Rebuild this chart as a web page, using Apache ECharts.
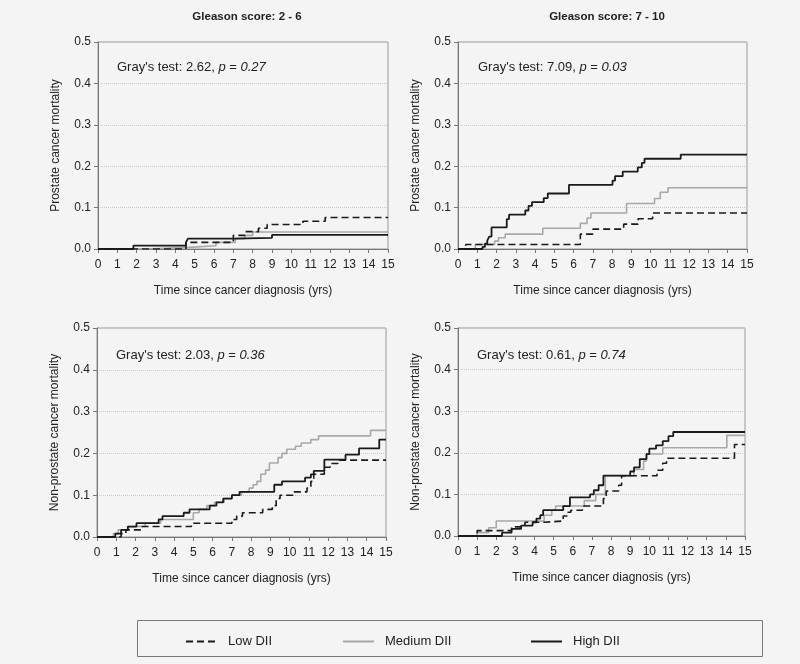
<!DOCTYPE html>
<html><head><meta charset="utf-8">
<script src="https://cdn.jsdelivr.net/npm/echarts@6/dist/echarts.min.js"></script>
<style>html,body{margin:0;padding:0;background:#f4f4f4;}#c{width:800px;height:664px;}</style>
</head><body><div id="c"></div>
<script>
// ---- data (time in years, cumulative mortality) ----
const seriesNames = ['Low DII', 'Medium DII', 'High DII'];
const panelTitles = ['Gleason score: 2 - 6', 'Gleason score: 7 - 10'];
const yNames = ['Prostate cancer mortality', 'Non-prostate cancer mortality'];
const xName = 'Time since cancer diagnosis (yrs)';
const grayStats = [['2.62', '0.27'], ['7.09', '0.03'], ['2.03', '0.36'], ['0.61', '0.74']];
const yTicks = [0, 0.1, 0.2, 0.3, 0.4, 0.5];
const xTicks = [0,1,2,3,4,5,6,7,8,9,10,11,12,13,14,15];

// Panel 1: Gleason 2-6, prostate cancer mortality
const p1Low = [[0,0],[4.55,0.016],[7.0,0.033],[7.6,0.042],[8.3,0.05],[8.75,0.059],[10.6,0.067],[11.75,0.076],[15,0.076]];
const p1Med = [[0,0],[2.4,0.004],[4.7,0.008],[6.1,0.016],[7.1,0.025],[7.6,0.033],[8.0,0.041],[15,0.041]];
const p1High = [[0,0],[1.83,0.008],[4.55,0.016],[4.65,0.025],[7.0,0.027],[9.0,0.034],[15,0.034]];
// Panel 2: Gleason 7-10, prostate cancer mortality
const p2Low = [[0,0],[0.4,0.011],[6.35,0.036],[7.0,0.048],[8.6,0.06],[9.35,0.073],[10.1,0.087],[15,0.087]];
const p2Med = [[0,0],[0.9,0.011],[1.9,0.019],[2.1,0.027],[2.45,0.036],[4.4,0.05],[6.35,0.062],[6.7,0.075],[6.9,0.087],[8.75,0.11],[10.2,0.122],[10.5,0.137],[10.9,0.148],[15,0.148]];
const p2High = [[0,0],[1.27,0.005],[1.4,0.013],[1.52,0.02],[1.62,0.03],[1.74,0.052],[2.53,0.072],[2.65,0.083],[3.49,0.093],[3.66,0.104],[3.84,0.113],[4.45,0.123],[4.66,0.134],[5.76,0.155],[8.02,0.165],[8.15,0.176],[8.55,0.187],[9.33,0.197],[9.54,0.208],[9.68,0.218],[11.56,0.228],[15,0.228]];
// Panel 3: Gleason 2-6, non-prostate cancer mortality
const p3Low = [[0,0],[1.25,0.008],[1.5,0.017],[2.3,0.025],[4.9,0.033],[7.0,0.042],[7.25,0.05],[7.55,0.058],[8.6,0.066],[9.1,0.075],[9.3,0.092],[9.5,0.1],[10.2,0.108],[10.9,0.117],[11.1,0.133],[11.25,0.15],[11.8,0.167],[12.1,0.176],[12.5,0.184],[15,0.184]];
const p3Med = [[0,0],[0.85,0.008],[1.1,0.017],[1.6,0.025],[2.5,0.033],[3.3,0.042],[5.0,0.058],[5.3,0.066],[5.7,0.075],[6.1,0.083],[6.6,0.092],[7.0,0.1],[7.5,0.108],[7.9,0.117],[8.1,0.125],[8.3,0.133],[8.5,0.15],[8.75,0.16],[8.95,0.177],[9.4,0.19],[9.6,0.2],[9.85,0.21],[10.3,0.217],[10.6,0.225],[11.1,0.233],[11.5,0.242],[14.2,0.255],[15,0.255]];
const p3High = [[0,0],[0.95,0.008],[1.25,0.017],[1.6,0.025],[2.05,0.033],[3.2,0.042],[3.4,0.05],[4.5,0.058],[4.8,0.066],[5.85,0.075],[6.2,0.083],[6.55,0.092],[7.0,0.1],[7.4,0.108],[9.2,0.125],[9.6,0.133],[10.8,0.142],[11.1,0.15],[11.25,0.158],[11.8,0.185],[12.9,0.197],[13.6,0.212],[14.65,0.233],[15,0.233]];
// Panel 4: Gleason 7-10, non-prostate cancer mortality
const p4Low = [[0,0],[1.0,0.013],[2.8,0.022],[3.5,0.033],[4.5,0.036],[5.5,0.048],[5.7,0.057],[5.9,0.062],[6.5,0.072],[7.6,0.09],[7.75,0.108],[8.4,0.122],[8.55,0.145],[10.4,0.158],[10.7,0.175],[10.9,0.187],[14.45,0.22],[15,0.22]];
const p4Med = [[0,0],[1.0,0.008],[1.6,0.02],[2.0,0.036],[4.5,0.05],[4.9,0.062],[5.1,0.072],[6.6,0.085],[7.2,0.1],[7.7,0.145],[9.2,0.16],[9.7,0.18],[9.85,0.197],[10.7,0.212],[14.05,0.242],[15,0.242]];
const p4High = [[0,0],[2.3,0.008],[2.8,0.017],[3.3,0.025],[3.9,0.033],[4.1,0.042],[4.3,0.05],[4.45,0.062],[5.5,0.072],[5.85,0.093],[6.9,0.1],[7.1,0.11],[7.35,0.122],[7.6,0.145],[9.0,0.155],[9.2,0.165],[9.5,0.185],[9.85,0.197],[10.0,0.21],[10.35,0.218],[10.7,0.228],[11.0,0.24],[11.25,0.25],[15,0.25]];

const panels = [
  {low: p1Low, med: p1Med, high: p1High},
  {low: p2Low, med: p2Med, high: p2High},
  {low: p3Low, med: p3Med, high: p3High},
  {low: p4Low, med: p4Med, high: p4High}
];

// ---- layout / style ----
const FONT = '"Liberation Sans", Arial, sans-serif';
const grids = [
  {left: 98, top: 42, width: 290, height: 207},
  {left: 458, top: 42, width: 289, height: 207},
  {left: 97, top: 328, width: 289, height: 209},
  {left: 458, top: 328, width: 287, height: 208}
];
const styles = {
  low: {color: '#1a1a1a', width: 1.6, type: [7, 4]},
  med: {color: '#a8a8a8', width: 1.6, type: 'solid'},
  high: {color: '#1a1a1a', width: 1.8, type: 'solid'}
};

const option = {
  backgroundColor: '#f4f4f4',
  animation: false,
  title: [
    {text: panelTitles[0], left: 242, top: 6, textAlign: 'center',
     textStyle: {fontFamily: FONT, fontSize: 11.5, fontWeight: 'bold', color: '#222'}},
    {text: panelTitles[1], left: 602, top: 6, textAlign: 'center',
     textStyle: {fontFamily: FONT, fontSize: 11.5, fontWeight: 'bold', color: '#222'}}
  ],
  grid: grids.map(g => Object.assign({show: true, borderColor: '#9a9a9a', borderWidth: 1, backgroundColor: 'transparent', containLabel: false}, g)),
  xAxis: grids.map((g, i) => ({
    gridIndex: i, type: 'value', min: xTicks[0], max: xTicks[xTicks.length - 1], interval: 1,
    name: xName, nameLocation: 'middle', nameGap: 36,
    nameTextStyle: {fontFamily: FONT, fontSize: 12, color: '#222'},
    axisLine: {show: true, lineStyle: {color: '#777', width: 1}},
    axisTick: {show: true, inside: false, length: 4, lineStyle: {color: '#777'}},
    axisLabel: {fontFamily: FONT, fontSize: 12, color: '#222', margin: 10},
    splitLine: {show: false}
  })),
  yAxis: grids.map((g, i) => ({
    gridIndex: i, type: 'value', min: yTicks[0], max: yTicks[yTicks.length - 1], interval: 0.1,
    name: yNames[i < 2 ? 0 : 1], nameLocation: 'middle', nameGap: 36,
    nameTextStyle: {fontFamily: FONT, fontSize: 12, color: '#222'},
    axisLine: {show: true, lineStyle: {color: '#777', width: 1}},
    axisTick: {show: true, inside: false, length: 4, lineStyle: {color: '#777'}},
    axisLabel: {fontFamily: FONT, fontSize: 12, color: '#222', margin: 7, formatter: v => v.toFixed(1)},
    splitLine: {show: true, lineStyle: {color: '#c8c8c8', type: 'dotted', width: 1}}
  })),
  legend: [
    {data: [seriesNames[0]], left: 180, top: 630},
    {data: [seriesNames[1]], left: 337, top: 630},
    {data: [seriesNames[2]], left: 525, top: 630}
  ].map(l => Object.assign({
    itemWidth: 31, itemHeight: 14,
    itemStyle: {opacity: 0},
    textStyle: {fontFamily: FONT, fontSize: 13, color: '#222', padding: [0, 0, 0, 6]}
  }, l)),
  graphic: [
    {type: 'rect', shape: {x: 137.5, y: 620.5, width: 625, height: 36},
     style: {fill: 'transparent', stroke: '#777', lineWidth: 1}, silent: true}
  ].concat(grayStats.map((s, i) => ({
    type: 'text',
    left: [117, 478, 116, 477][i],
    top: [61, 61, 349, 349][i],
    style: {
      text: '{a|Gray\'s test: ' + s[0] + ', }{i|p}{a| = }{i|' + s[1] + '}',
      rich: {
        a: {fontFamily: FONT, fontSize: 13, fill: '#222'},
        i: {fontFamily: FONT, fontSize: 13, fontStyle: 'italic', fill: '#222'}
      }
    }
  }))),
  series: []
};

panels.forEach((p, i) => {
  [['med', 1], ['low', 0], ['high', 2]].forEach(([k, ni]) => {
    option.series.push({
      name: seriesNames[ni], type: 'line', step: 'end', symbol: 'none', showSymbol: false,
      xAxisIndex: i, yAxisIndex: i, data: p[k],
      lineStyle: styles[k], itemStyle: {color: styles[k].color},
      z: k === 'high' ? 4 : (k === 'low' ? 3 : 2)
    });
  });
});

const chart = echarts.init(document.getElementById('c'), null, {renderer: 'canvas'});
chart.setOption(option);
</script>
</body></html>
